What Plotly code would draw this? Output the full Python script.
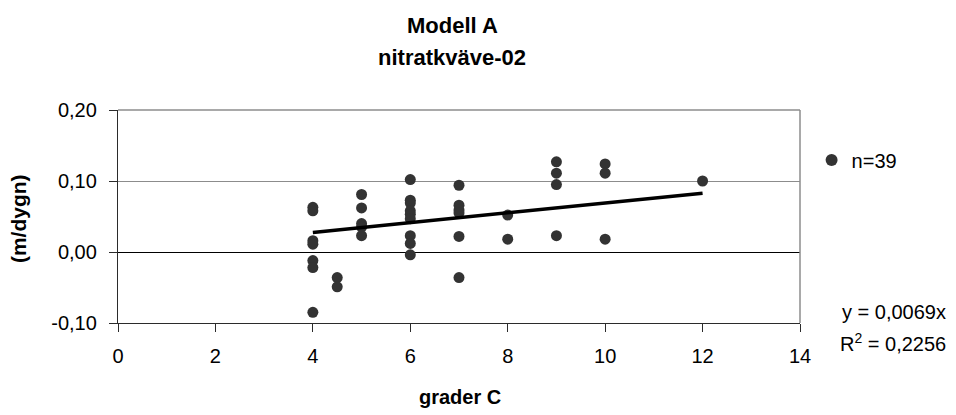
import plotly.graph_objects as go

# Temperature (grader C) and nitrate-nitrogen rate (m/dygn), n = 39
temps = [4, 4, 4, 4, 4, 4, 4,
         4.5, 4.5,
         5, 5, 5, 5, 5,
         6, 6, 6, 6, 6, 6, 6, 6, 6,
         7, 7, 7, 7, 7, 7,
         8, 8,
         9, 9, 9, 9,
         10, 10, 10,
         12]
rates = [0.063, 0.058, 0.016, 0.011, -0.012, -0.022, -0.085,
         -0.036, -0.049,
         0.081, 0.062, 0.040, 0.035, 0.023,
         0.102, 0.073, 0.069, 0.058, 0.053, 0.047, 0.023, 0.012, -0.004,
         0.094, 0.066, 0.059, 0.055, 0.022, -0.036,
         0.052, 0.018,
         0.127, 0.111, 0.095, 0.023,
         0.124, 0.111, 0.018,
         0.100]

# Linear trend through the origin
slope = 0.0069
r_squared = 0.2256
trend_x = [min(temps), max(temps)]
trend_y = [slope * t for t in trend_x]

x_ticks = [0, 2, 4, 6, 8, 10, 12, 14]
y_ticks = [-0.10, 0.00, 0.10, 0.20]
y_tick_labels = ["-0,10", "0,00", "0,10", "0,20"]

FONT = "Liberation Sans, Arial, sans-serif"
AXIS_COLOR = "#2b2b2b"
GRID_COLOR = "#8c8c8c"

fig = go.Figure()
fig.add_trace(go.Scatter(
    x=temps, y=rates, mode="markers", name="n=39",
    marker=dict(color="#333333", size=11, line=dict(width=0)),
))
fig.add_trace(go.Scatter(
    x=trend_x, y=trend_y, mode="lines", showlegend=False,
    line=dict(color="black", width=3.5),
))

fig.update_layout(
    width=956, height=415,
    margin=dict(l=118, r=156, t=110, b=92),
    paper_bgcolor="white", plot_bgcolor="white",
    separators=",.",
    font=dict(family=FONT, size=20, color="black"),
    showlegend=True,
    legend=dict(x=1.017, y=0.765, xanchor="left", yanchor="middle",
                font=dict(size=20), bgcolor="rgba(0,0,0,0)",
                itemsizing="constant"),
    xaxis=dict(
        range=[0, 14], tickvals=x_ticks, tickformat="d",
        showgrid=False, zeroline=False,
        showline=True, linecolor=AXIS_COLOR, linewidth=1.3,
        ticks="outside", ticklen=8, tickcolor=AXIS_COLOR, tickwidth=1.3,
        ticklabelstandoff=7,
    ),
    yaxis=dict(
        range=[-0.1, 0.2], tickvals=y_ticks, ticktext=y_tick_labels,
        showgrid=True, gridcolor=GRID_COLOR, gridwidth=1,
        zeroline=True, zerolinecolor="black", zerolinewidth=1.3,
        showline=True, linecolor=AXIS_COLOR, linewidth=1.3,
        ticks="outside", ticklen=8, tickcolor=AXIS_COLOR, tickwidth=1.3,
        ticklabelstandoff=8,
    ),
    shapes=[
        dict(type="line", xref="paper", yref="paper", x0=1, x1=1, y0=0, y1=1,
             line=dict(color=GRID_COLOR, width=1.5)),
        dict(type="line", xref="paper", yref="paper", x0=0, x1=1, y0=1, y1=1,
             line=dict(color=GRID_COLOR, width=1.5)),
    ],
    annotations=[
        dict(text="<b>Modell A</b>", xref="paper", yref="paper",
             x=0.49, y=1.395, xanchor="center", yanchor="middle",
             showarrow=False, font=dict(size=22)),
        dict(text="<b>nitratkväve-02</b>", xref="paper", yref="paper",
             x=0.49, y=1.245, xanchor="center", yanchor="middle",
             showarrow=False, font=dict(size=22)),
        dict(text="<b>grader C</b>", xref="paper", yref="paper",
             x=0.501, y=-0.347, xanchor="center", yanchor="middle",
             showarrow=False, font=dict(size=20)),
        dict(text="<b>(m/dygn)</b>", xref="paper", yref="paper",
             x=-0.146, y=0.49, xanchor="center", yanchor="middle",
             textangle=-90, showarrow=False, font=dict(size=21)),
        dict(text=f"y = {slope:.4f}x".replace(".", ","), xref="paper", yref="paper",
             x=1.217, y=0.052, xanchor="right", yanchor="middle",
             showarrow=False, font=dict(size=20)),
        dict(text=f"R<sup>2</sup> = {r_squared:.4f}".replace(".", ","),
             xref="paper", yref="paper",
             x=1.217, y=-0.09, xanchor="right", yanchor="middle",
             showarrow=False, font=dict(size=20)),
    ],
)

fig.write_html("out.html")
